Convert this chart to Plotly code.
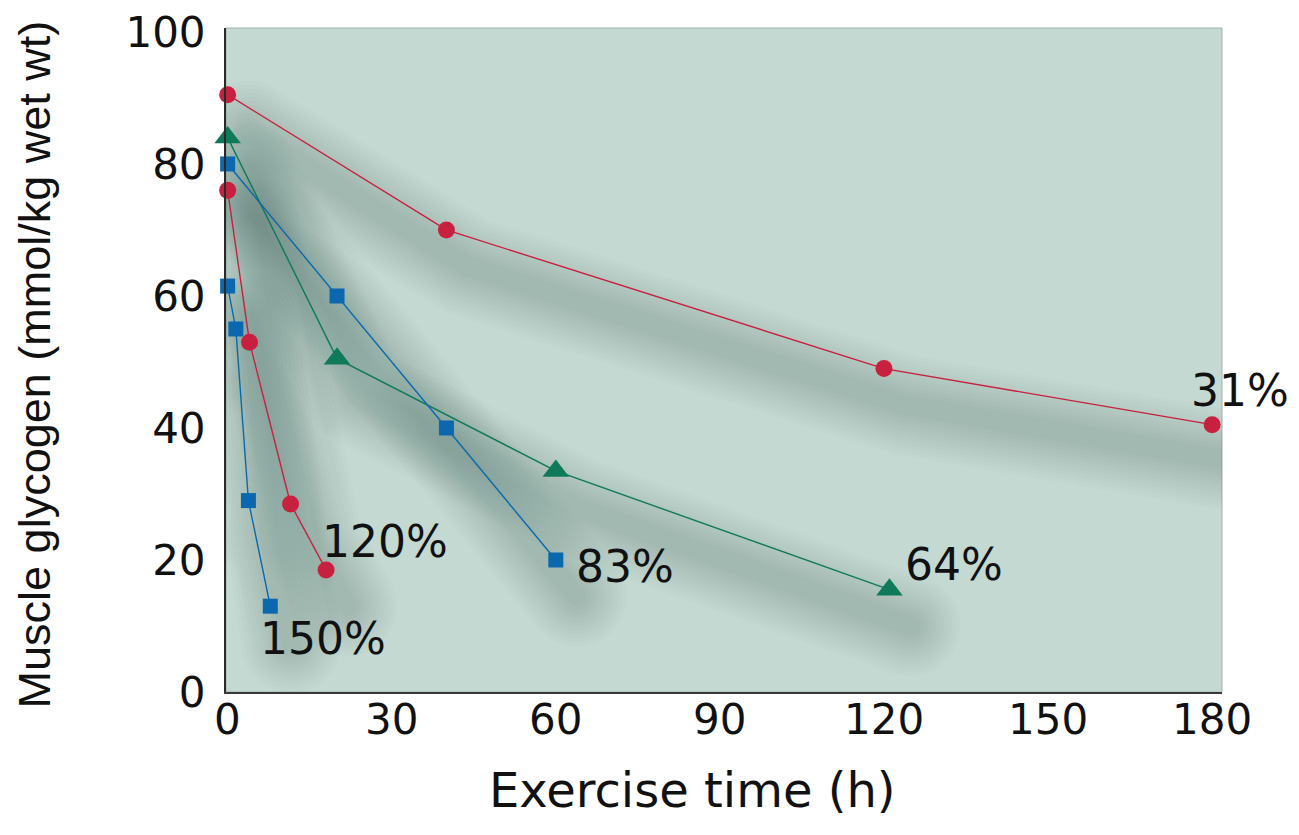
import plotly.graph_objects as go

# ---- data ----
x_31 = [0, 40, 120, 180]
y_31 = [90.5, 70, 49, 40.5]
x_64 = [0, 20, 60, 121]
y_64 = [84, 50.5, 33.5, 15.5]
x_83 = [0, 20, 40, 60]
y_83 = [80, 60, 40, 20]
x_120 = [0, 4, 11.5, 18]
y_120 = [76, 53, 28.5, 18.5]
x_150 = [0, 1.5, 3.8, 7.8]
y_150 = [61.5, 55, 29, 13]
labels = ["31%", "64%", "83%", "120%", "150%"]
x_ticks = [0, 30, 60, 90, 120, 150, 180]
y_ticks = [0, 20, 40, 60, 80, 100]

RED = "#C8203F"
BLUE = "#0B68AE"
GREEN = "#0F7A5A"
HFONT = "DejaVu Sans, Liberation Sans, Arial, sans-serif"
VFONT = "Liberation Sans, Arial, sans-serif"

series = [
    (x_31, y_31, RED, "circle", 17, labels[0], dict(xanchor="center", xshift=28, yshift=34)),
    (x_64, y_64, GREEN, "triangle-up", 23, labels[1], dict(xanchor="left", xshift=14, yshift=25)),
    (x_83, y_83, BLUE, "square", 15, labels[2], dict(xanchor="left", xshift=18, yshift=-7)),
    (x_120, y_120, RED, "circle", 17, labels[3], dict(xanchor="left", xshift=-6, yshift=28)),
    (x_150, y_150, BLUE, "square", 15, labels[4], dict(xanchor="left", xshift=-12, yshift=-32)),
]

fig = go.Figure()

# soft, blurred drop shadows (offset copies of each series, rounded ends)
dx, dy = 3.8, -5.5
for xs, ys, col, sym, sz, lab, pos in series:
    for w in range(100, 12, -8):
        fig.add_trace(go.Scatter(
            x=[v + dx for v in xs], y=[v + dy for v in ys], mode="lines+markers",
            line=dict(color="rgb(45,85,75)", width=w),
            marker=dict(symbol="circle", size=w, color="rgb(45,85,75)", line=dict(width=0)),
            opacity=0.017, hoverinfo="skip", showlegend=False))

for xs, ys, col, sym, sz, lab, pos in series:
    fig.add_trace(go.Scatter(
        x=xs, y=ys, mode="lines+markers",
        line=dict(color=col, width=1.4),
        marker=dict(symbol=sym, size=sz, color=col, line=dict(width=0)),
        showlegend=False, cliponaxis=False))
    fig.add_annotation(x=xs[-1], y=ys[-1], text=lab, showarrow=False,
                       yanchor="middle", font=dict(family=HFONT, size=44, color="#111"),
                       **pos)

fig.update_layout(
    width=1299, height=835,
    margin=dict(l=218, r=85, t=20, b=151),
    paper_bgcolor="white",
    plot_bgcolor="#C3D9D2",
    font=dict(family=HFONT, size=42, color="#111"),
    showlegend=False,
)
fig.update_xaxes(
    range=[-0.3, 181.8], tickvals=x_ticks,
    showgrid=False, zeroline=False, showline=True, linecolor="#3a3a3a", linewidth=2,
    ticks="", showticklabels=False, automargin=False,
)
fig.update_yaxes(
    range=[0, 100.6], tickvals=y_ticks,
    showgrid=False, zeroline=False, showline=True, linecolor="#2a2a2a", linewidth=2,
    ticks="", ticklen=0, ticklabelstandoff=10, automargin=False,
    ticklabeloverflow="allow",
    tickfont=dict(family=HFONT, size=42),
)
# x tick labels placed just under the axis
for v in x_ticks:
    fig.add_annotation(x=v, xref="x", y=0, yref="paper", text=str(v), showarrow=False,
                       xanchor="center", yanchor="middle", yshift=-27,
                       font=dict(family=HFONT, size=42, color="#111"))
# axis titles
fig.add_annotation(xref="paper", yref="paper", x=0.468, y=-0.148, text="Exercise time (h)",
                   showarrow=False, xanchor="center", yanchor="middle",
                   font=dict(family=HFONT, size=48, color="#111"))
fig.add_annotation(xref="paper", yref="paper", x=-0.192, y=0.493,
                   text="Muscle glycogen (mmol/kg wet wt)", textangle=-90,
                   showarrow=False, xanchor="center", yanchor="middle",
                   font=dict(family=VFONT, size=45, color="#111"))
fig.add_shape(type="rect", xref="paper", yref="paper", x0=0, x1=1, y0=0, y1=1,
              line=dict(color="#9EB3AC", width=1), layer="below")

fig.write_html("out.html")
